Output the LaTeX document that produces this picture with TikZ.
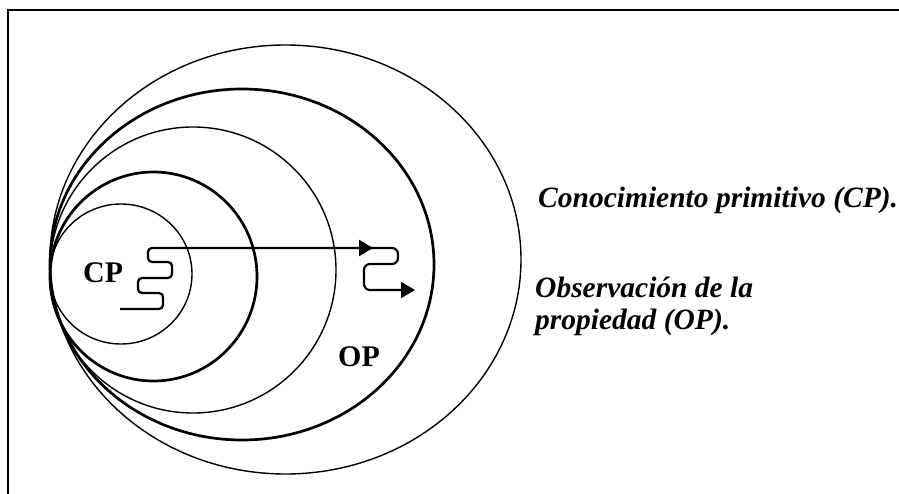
\documentclass[tikz,border=0pt]{standalone}
\usepackage{fontspec}
\setmainfont{Liberation Serif}
\usetikzlibrary{arrows.meta}
\begin{document}
\begin{tikzpicture}[x=1pt,y=-1pt,
  ringthin/.style={draw=black,line width=1.4pt},
  ringthick/.style={draw=black,line width=2.7pt},
  pathline/.style={draw=black,line width=2.2pt,rounded corners=4pt},
  tip/.style={-{Triangle[length=14pt,width=16pt]}},
  desc/.style={anchor=base west,inner sep=0pt,font=\fontsize{29.5}{35}\selectfont\bfseries\itshape},
  tag/.style={anchor=base west,inner sep=0pt,font=\fontsize{30}{36}\selectfont\bfseries}]
\useasboundingbox (0,0) rectangle (899,494);
% frame
\draw[line width=2pt] (899,10) -- (8,10) -- (8,494);
% rings
\draw[ringthin]  (285.5,259.5) ellipse [x radius=235.5pt, y radius=214.5pt];
\draw[ringthick] (242,264.5)   ellipse [x radius=192pt,   y radius=175.5pt];
\draw[ringthin]  (193,270)     ellipse [x radius=143pt,   y radius=143pt];
\draw[ringthick] (153.5,276.5) ellipse [x radius=103.5pt, y radius=104.5pt];
\draw[ringthin]  (121,274)     ellipse [x radius=71pt,    y radius=70pt];
% squiggle arrows
\coordinate (s0) at (120,309);
\coordinate (m1) at (373,248);
\coordinate (m0) at (366,248);
\coordinate (e1) at (415,290);
\draw[pathline,tip] (s0) -- (163,309) -- (163,293) -- (138,293) -- (138,278)
  -- (172,278) -- (172,262) -- (148,262) -- (148,248) -- (m1);
\draw[pathline,tip,rounded corners=6pt] (m0) -- (398,248) -- (398,264) -- (364,264)
  -- (364,290) -- (e1);
% labels
\node[tag] (cp) at (83,283) {CP};
\node[tag] (op) at (338,366) {OP};
\node[desc] (cpdesc) at (538,208) {Conocimiento primitivo (CP).};
\node[desc] (opdesc1) at (535,297) {Observación de la};
\node[desc] (opdesc2) at (535,329) {propiedad (OP).};
\end{tikzpicture}
\end{document}
